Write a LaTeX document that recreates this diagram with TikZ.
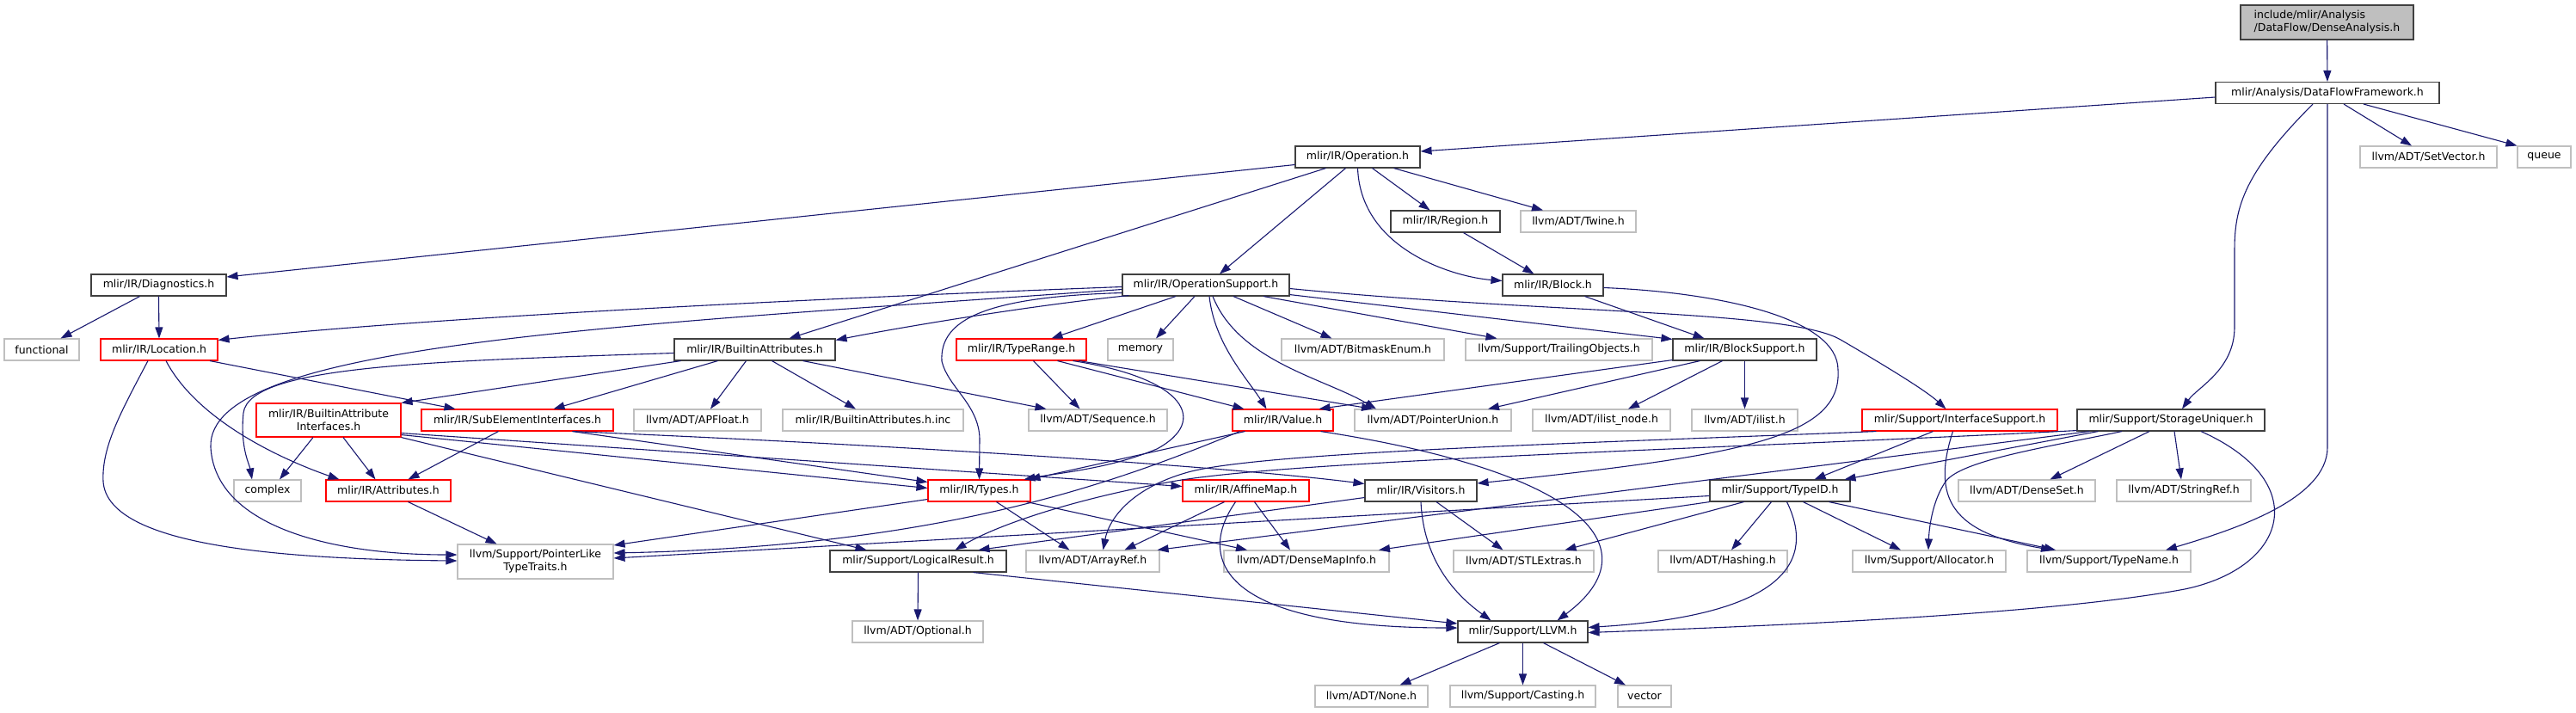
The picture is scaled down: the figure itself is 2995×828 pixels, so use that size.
\documentclass[tikz,border=0pt]{standalone}
\usepackage{fontspec}
\setmainfont{DejaVu Sans}
\usetikzlibrary{arrows.meta}
\definecolor{edgeblue}{HTML}{191970}
\definecolor{nodegray}{HTML}{BFBFBF}
\definecolor{nodered}{HTML}{FF0000}
\definecolor{nodeblack}{HTML}{404040}
\newcommand{\nodefont}{\fontsize{12.5}{15}\selectfont}
\begin{document}
\begin{tikzpicture}[x=1pt,y=-1pt,
  nb/.style={draw=nodeblack, fill=white, line width=1.1pt, rectangle, inner sep=0pt, minimum height=25pt, font=\nodefont, text=black},
  ng/.style={nb, draw=nodegray},
  nr/.style={nb, draw=nodered},
  nroot/.style={nb, fill=nodegray, minimum height=40pt, align=left},
  dep/.style={draw=edgeblue, line width=1.1pt, -{Triangle[length=13pt,width=9pt]}}]
\fill[white] (0,0) rectangle (2995,828);
\useasboundingbox (0,0) rectangle (2995,828);
% row 0-3
\node[nroot, minimum width=201pt] (root) at (2705.5,26) {include/mlir/Analysis\\/DataFlow/DenseAnalysis.h};
\node[nb, minimum width=260pt] (dff) at (2706,108) {mlir/Analysis/DataFlowFramework.h};
\node[nb, minimum width=145pt] (op) at (1578.5,182.5) {mlir/IR/Operation.h};
\node[ng, minimum width=159pt] (setvec) at (2823.5,182.5) {llvm/ADT/SetVector.h};
\node[ng, minimum width=62pt] (queue) at (2958,182.5) {queue};
\node[nb, minimum width=127pt] (region) at (1680.5,257.5) {mlir/IR/Region.h};
\node[ng, minimum width=134pt] (twine) at (1835,257.5) {llvm/ADT/Twine.h};
% row 4
\node[nb, minimum width=157pt] (diag) at (184.5,331.5) {mlir/IR/Diagnostics.h};
\node[nb, minimum width=194pt] (opsup) at (1402,331.5) {mlir/IR/OperationSupport.h};
\node[nb, minimum width=117pt] (block) at (1805.5,331.5) {mlir/IR/Block.h};
% row 5
\node[ng, minimum width=87pt] (functional) at (48.5,406.5) {functional};
\node[nr, minimum width=136pt] (location) at (185,406.5) {mlir/IR/Location.h};
\node[nb, minimum width=187pt] (battr) at (877.5,406.5) {mlir/IR/BuiltinAttributes.h};
\node[nr, minimum width=151pt] (typerange) at (1187.5,406.5) {mlir/IR/TypeRange.h};
\node[ng, minimum width=76pt] (memory) at (1326,406.5) {memory};
\node[ng, minimum width=189pt] (bitmask) at (1584.5,406.5) {llvm/ADT/BitmaskEnum.h};
\node[ng, minimum width=217pt] (trailing) at (1812.5,406.5) {llvm/Support/TrailingObjects.h};
\node[nb, minimum width=167pt] (blocksup) at (2028.5,406.5) {mlir/IR/BlockSupport.h};
% row 6
\node[nr, minimum width=168pt, minimum height=39pt, align=center] (bai) at (382,488.5) {mlir/IR/BuiltinAttribute\\Interfaces.h};
\node[nr, minimum width=223pt] (subel) at (601.5,488.5) {mlir/IR/SubElementInterfaces.h};
\node[ng, minimum width=148pt] (apfloat) at (811,488.5) {llvm/ADT/APFloat.h};
\node[ng, minimum width=210pt] (binc) at (1015,488.5) {mlir/IR/BuiltinAttributes.h.inc};
\node[ng, minimum width=161pt] (sequence) at (1276.5,488.5) {llvm/ADT/Sequence.h};
\node[nr, minimum width=117pt] (value) at (1491.5,488.5) {mlir/IR/Value.h};
\node[ng, minimum width=182pt] (ptrunion) at (1666,488.5) {llvm/ADT/PointerUnion.h};
\node[ng, minimum width=160pt] (ilistnode) at (1862,488.5) {llvm/ADT/ilist\_node.h};
\node[ng, minimum width=123pt] (ilist) at (2028.5,488.5) {llvm/ADT/ilist.h};
\node[nr, minimum width=227pt] (intsup) at (2278.5,488.5) {mlir/Support/InterfaceSupport.h};
\node[nb, minimum width=218pt] (storage) at (2524,488.5) {mlir/Support/StorageUniquer.h};
% row 7
\node[ng, minimum width=78pt] (complex) at (311,570.5) {complex};
\node[nr, minimum width=145pt] (attrs) at (451.5,570.5) {mlir/IR/Attributes.h};
\node[nr, minimum width=119pt] (types) at (1138.5,570.5) {mlir/IR/Types.h};
\node[nr, minimum width=147pt] (affine) at (1448.5,570.5) {mlir/IR/AffineMap.h};
\node[nb, minimum width=130pt] (visitors) at (1652,570.5) {mlir/IR/Visitors.h};
\node[nb, minimum width=163pt] (typeid) at (2069.5,570.5) {mlir/Support/TypeID.h};
\node[ng, minimum width=159pt] (denseset) at (2356.5,570.5) {llvm/ADT/DenseSet.h};
\node[ng, minimum width=156pt] (stringref) at (2539,570.5) {llvm/ADT/StringRef.h};
% row 8
\node[ng, minimum width=181pt, minimum height=40pt, align=center] (ptrlike) at (622.5,653) {llvm/Support/PointerLike\\TypeTraits.h};
\node[nb, minimum width=205pt] (logres) at (1067.5,652.5) {mlir/Support/LogicalResult.h};
\node[ng, minimum width=155pt] (arrayref) at (1270.5,652.5) {llvm/ADT/ArrayRef.h};
\node[ng, minimum width=192pt] (densemap) at (1519,652.5) {llvm/ADT/DenseMapInfo.h};
\node[ng, minimum width=163pt] (stlextras) at (1771.5,652.5) {llvm/ADT/STLExtras.h};
\node[ng, minimum width=150pt] (hashing) at (2003,652.5) {llvm/ADT/Hashing.h};
\node[ng, minimum width=178pt] (allocator) at (2243,652.5) {llvm/Support/Allocator.h};
\node[ng, minimum width=190pt] (typename) at (2452,652.5) {llvm/Support/TypeName.h};
% row 9-10
\node[ng, minimum width=152pt] (optional) at (1067,734.5) {llvm/ADT/Optional.h};
\node[nb, minimum width=151pt] (llvm) at (1770.5,734.5) {mlir/Support/LLVM.h};
\node[ng, minimum width=131pt] (none) at (1594.5,809.5) {llvm/ADT/None.h};
\node[ng, minimum width=169pt] (casting) at (1770.5,809.5) {llvm/Support/Casting.h};
\node[ng, minimum width=62pt] (vector) at (1912,809.5) {vector};

% ---- edges ----
\draw[dep] (root) -- (dff);
\draw[dep] ([yshift=-5pt]dff.west) -- ([yshift=6.5pt]op.east);
\draw[dep] ([xshift=19pt]dff.south) -- ([xshift=-19.5pt]setvec.north);
\draw[dep] ([xshift=42pt]dff.south) -- (queue.north west);
\draw[dep] ([xshift=-17pt]dff.south) .. controls (2610,200) and (2598,240) .. (2598,290) -- (2598,380) .. controls (2598,430) and (2555,450) .. ([xshift=13pt]storage.north);
\draw[dep] (dff.south) -- (2706,520) .. controls (2706,580) and (2600,615) .. ([xshift=66pt]typename.north);

\draw[dep] ([yshift=-9pt]op.west) -- ([yshift=9.5pt]diag.east);
\draw[dep] ([xshift=-37pt]op.south) -- ([xshift=40pt]battr.north);
\draw[dep] ([xshift=-14pt]op.south) -- ([xshift=16pt]opsup.north);
\draw[dep] (op.south) .. controls (1582,290) and (1690,322) .. ([yshift=5pt]block.west);
\draw[dep] ([xshift=17pt]op.south) -- ([xshift=-18pt]region.north);
\draw[dep] ([xshift=42pt]op.south) -- ([xshift=-41pt]twine.north);
\draw[dep] ([xshift=21pt]region.south) -- ([xshift=-22pt]block.north);

\draw[dep] ([xshift=-22pt]diag.south) -- ([xshift=22pt]functional.north);
\draw[dep] (diag.south) -- (location.north);

\draw[dep] ([yshift=-2pt]opsup.west) .. controls (1000,345) and (500,368) .. ([yshift=-2pt]location.north east);
\draw[dep] ([xshift=8pt,yshift=1pt]opsup.south west) .. controls (1200,355) and (1050,380) .. ([yshift=-2pt]battr.north east);
\draw[dep] ([yshift=-5pt]opsup.west) .. controls (700,380) and (240,400) .. (245,520) .. controls (250,610) and (380,645) .. ([yshift=8pt]ptrlike.west);
\draw[dep] ([yshift=-9pt]opsup.west) .. controls (1150,345) and (1092,370) .. (1095,420) .. controls (1102,450) and (1138,470) .. (1139,510) -- (types.north);
\draw[dep] ([xshift=-35pt]opsup.south) -- ([xshift=35pt]typerange.north);
\draw[dep] ([xshift=-13pt]opsup.south) -- ([xshift=18pt]memory.north);
\draw[dep] ([xshift=4pt]opsup.south) .. controls (1412,400) and (1450,440) .. ([xshift=-19pt]value.north);
\draw[dep] ([xshift=8pt]opsup.south) .. controls (1440,420) and (1540,440) .. ([xshift=-66pt]ptrunion.north);
\draw[dep] ([xshift=32pt]opsup.south) -- ([xshift=-36pt]bitmask.north);
\draw[dep] ([xshift=67pt]opsup.south) -- ([xshift=-72pt]trailing.north);
\draw[dep] ([yshift=2pt]opsup.south east) -- ([yshift=-1pt]blocksup.north west);
\draw[dep] ([yshift=-4pt]opsup.east) .. controls (1800,365) and (2080,360) .. (2140,395) .. controls (2200,430) and (2240,455) .. ([xshift=-16pt]intsup.north);

\draw[dep] ([xshift=37pt]block.south) -- ([xshift=-47pt]blocksup.north);
\draw[dep] ([yshift=-3pt]block.east) .. controls (2000,340) and (2137,370) .. (2137,430) .. controls (2142,510) and (2020,530) .. ([yshift=8.5pt]visitors.east);

\draw[dep] ([yshift=1pt]blocksup.south west) -- ([xshift=42pt]value.north);
\draw[dep] ([xshift=-52pt]blocksup.south) -- ([xshift=64pt]ptrunion.north);
\draw[dep] ([xshift=-26pt]blocksup.south) -- ([xshift=31pt]ilistnode.north);
\draw[dep] (blocksup.south) -- (ilist.north);

\draw[dep] ([xshift=-86pt]battr.south) -- (bai.north east);
\draw[dep] ([xshift=-43pt]battr.south) -- ([xshift=42pt]subel.north);
\draw[dep] ([xshift=-10pt]battr.south) -- ([xshift=15pt]apfloat.north);
\draw[dep] ([xshift=20pt]battr.south) -- ([xshift=-20pt]binc.north);
\draw[dep] ([xshift=56pt]battr.south) -- ([xshift=-60pt]sequence.north);
\draw[dep] ([yshift=-4pt]battr.west) .. controls (500,420) and (290,425) .. (283,480) .. controls (279,520) and (290,540) .. ([xshift=-18pt]complex.north);

\draw[dep] ([xshift=59pt]location.south) -- ([xshift=-72pt]subel.north);
\draw[dep] ([xshift=8pt]location.south) .. controls (230,490) and (330,535) .. ([xshift=-57pt]attrs.north);
\draw[dep] ([xshift=-13pt]location.south) .. controls (140,480) and (118,520) .. (120,560) .. controls (125,630) and (300,650) .. ([yshift=1pt]ptrlike.west);

\draw[dep] ([xshift=-18pt]bai.south) -- ([xshift=14pt]complex.north);
\draw[dep] ([xshift=17pt]bai.south) -- ([xshift=-15pt]attrs.north);
\draw[dep] ([yshift=3pt]bai.south east) -- ([yshift=3pt]types.west);
\draw[dep] ([yshift=5pt]bai.south east) -- ([yshift=5pt]affine.west);
\draw[dep] (bai.south east) -- ([xshift=-60pt]logres.north);

\draw[dep] ([xshift=-22pt]subel.south) -- ([xshift=23pt]attrs.north);
\draw[dep] ([xshift=64pt]subel.south) -- ([yshift=10pt]types.west);
\draw[dep] ([xshift=64pt]subel.south) .. controls (1100,520) and (1450,545) .. ([yshift=8pt]visitors.west);

\draw[dep] ([xshift=23pt]attrs.south) -- ([xshift=-45pt]ptrlike.north);

\draw[dep] ([xshift=14pt]typerange.south) -- ([xshift=-21pt]sequence.north);
\draw[dep] ([xshift=42pt]typerange.south) -- ([xshift=-45pt]value.north);
\draw[dep] ([xshift=67pt]typerange.south) -- ([xshift=-70pt]ptrunion.north);
\draw[dep] ([xshift=60pt]typerange.south) .. controls (1380,440) and (1405,490) .. (1345,522) .. controls (1290,545) and (1230,550) .. ([xshift=52pt]types.north);

\draw[dep] ([xshift=-44pt]value.south) -- ([xshift=58pt]types.north);
\draw[dep] ([xshift=-50pt]value.south) .. controls (1300,560) and (1100,635) .. ([yshift=10pt]ptrlike.east);
\draw[dep] ([xshift=44pt]value.south) .. controls (1850,550) and (1920,640) .. ([xshift=40pt]llvm.north);

\draw[dep] ([yshift=-10pt]types.west) -- ([yshift=19pt]ptrlike.east);
\draw[dep] ([xshift=20pt]types.south) -- ([xshift=-27pt]arrayref.north);
\draw[dep] ([xshift=55pt]types.south) -- ([xshift=-69pt]densemap.north);

\draw[dep] ([xshift=-25pt]affine.south) -- ([xshift=37pt]arrayref.north);
\draw[dep] ([xshift=10pt]affine.south) -- ([xshift=-19pt]densemap.north);
\draw[dep] ([xshift=-12pt]affine.south) .. controls (1390,650) and (1420,730) .. ([yshift=4.5pt]llvm.west);

\draw[dep] ([yshift=-8pt]visitors.west) -- ([xshift=70pt]logres.north);
\draw[dep] ([xshift=18pt]visitors.south) -- ([xshift=-24pt]stlextras.north);
\draw[dep] (visitors.south) .. controls (1655,650) and (1690,690) .. ([xshift=-37pt]llvm.north);

\draw[dep] ([yshift=-6pt]typeid.west) -- ([yshift=4pt]ptrlike.east);
\draw[dep] (typeid.south west) -- ([xshift=84pt]densemap.north);
\draw[dep] ([xshift=-42pt]typeid.south) -- ([xshift=48pt]stlextras.north);
\draw[dep] ([xshift=-10pt]typeid.south) -- ([xshift=10pt]hashing.north);
\draw[dep] ([xshift=27pt]typeid.south) -- ([xshift=-33pt]allocator.north);
\draw[dep] ([xshift=57pt]typeid.south) -- ([xshift=-62pt]typename.north);
\draw[dep] ([xshift=8pt]typeid.south) .. controls (2110,650) and (2080,715) .. ([yshift=5pt]llvm.east);

\draw[dep] ([xshift=-31pt]intsup.south) -- ([xshift=40pt]typeid.north);
\draw[dep] ([xshift=-8pt]intsup.south) .. controls (2245,580) and (2270,620) .. ([xshift=-66pt]typename.north);
\draw[dep] ([xshift=17pt]intsup.south west) .. controls (1850,515) and (1480,525) .. (1385,548) .. controls (1320,565) and (1290,600) .. ([xshift=12pt]arrayref.north);

\draw[dep] ([yshift=1pt]storage.south west) .. controls (2000,522) and (1500,535) .. (1362,560) .. controls (1250,580) and (1160,610) .. ([xshift=43pt]logres.north);
\draw[dep] ([xshift=15pt]storage.south west) -- ([xshift=-3pt]arrayref.north east);
\draw[dep] ([xshift=25pt]storage.south west) -- ([xshift=75pt]typeid.north);
\draw[dep] ([xshift=-25pt]storage.south) -- ([xshift=27pt]denseset.north);
\draw[dep] ([xshift=4pt]storage.south) -- ([xshift=-3pt]stringref.north);
\draw[dep] ([xshift=-57pt]storage.south) .. controls (2380,520) and (2280,535) .. (2262,560) .. controls (2248,580) and (2243,610) .. ([xshift=-1pt]allocator.north);
\draw[dep] ([xshift=35pt]storage.south) .. controls (2690,560) and (2660,660) .. (2540,685) .. controls (2380,715) and (2050,728) .. ([yshift=-1pt]llvm.east);

\draw[dep] (logres.south) -- (optional.north);
\draw[dep] ([xshift=64pt]logres.south) -- ([yshift=9.5pt]llvm.west);

\draw[dep] ([xshift=-27pt]llvm.south) -- ([xshift=33pt]none.north);
\draw[dep] (llvm.south) -- (casting.north);
\draw[dep] ([xshift=24pt]llvm.south) -- ([xshift=-22pt]vector.north);
\end{tikzpicture}
\end{document}
